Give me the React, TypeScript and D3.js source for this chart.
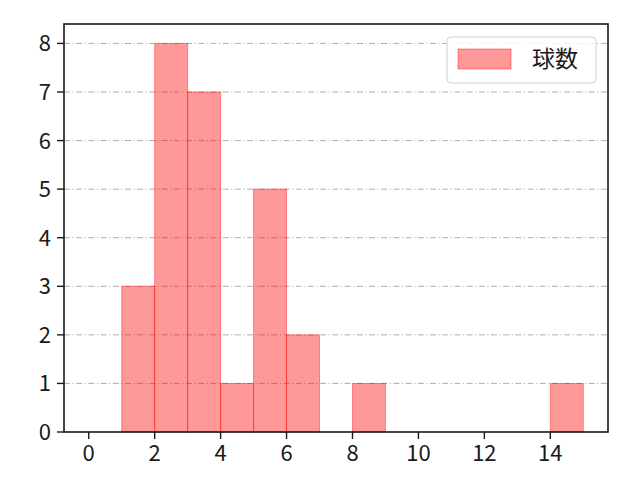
import * as d3 from "d3";

const binStarts = [1, 2, 3, 4, 5, 6, 7, 8, 9, 10, 11, 12, 13, 14];
const counts = [3, 8, 7, 1, 5, 2, 0, 1, 0, 0, 0, 0, 0, 1];
const xTicks = [0, 2, 4, 6, 8, 10, 12, 14];
const yTicks = [0, 1, 2, 3, 4, 5, 6, 7, 8];
const legendLabel = "球数";

const width = 640;
const height = 480;
const margin = { top: 24, right: 32, bottom: 48, left: 64 };
const font = "'Noto Sans CJK JP', 'Noto Sans', sans-serif";

export default function App() {
  const x = d3.scaleLinear().domain([-0.75, 15.75]).range([margin.left, width - margin.right]);
  const y = d3.scaleLinear().domain([0, 8.4]).range([height - margin.bottom, margin.top]);
  const bottom = height - margin.bottom;

  return (
    <svg width={width} height={height} style={{ position: "absolute", left: 0, top: 0, background: "#fff", fontFamily: font }}>
      {yTicks.slice(1).map((tick) => (
        <line key={`g-${tick}`} x1={margin.left} x2={width - margin.right} y1={y(tick)} y2={y(tick)} stroke="#b0b0b0" strokeWidth={1} strokeDasharray="6 2.5 1.2 2.5" />
      ))}

      {binStarts.map((start, i) =>
        counts[i] > 0 ? (
          <rect key={start} x={x(start)} y={y(counts[i])} width={x(start + 1) - x(start)} height={bottom - y(counts[i])} fill="rgba(255,0,0,0.4)" stroke="rgba(255,0,0,0.4)" strokeWidth={1} />
        ) : null,
      )}

      <rect x={margin.left} y={margin.top} width={width - margin.left - margin.right} height={bottom - margin.top} fill="none" stroke="#1a1a1a" strokeWidth={1.6} />

      {xTicks.map((tick) => (
        <g key={`x-${tick}`}>
          <line x1={x(tick)} x2={x(tick)} y1={bottom} y2={bottom + 7} stroke="#1a1a1a" strokeWidth={1.4} />
          <text x={x(tick)} y={bottom + 29} textAnchor="middle" fontSize={22} fill="#1a1a1a">{tick}</text>
        </g>
      ))}
      {yTicks.map((tick) => (
        <g key={`y-${tick}`}>
          <line x1={margin.left - 7} x2={margin.left} y1={y(tick)} y2={y(tick)} stroke="#1a1a1a" strokeWidth={1.4} />
          <text x={margin.left - 13} y={y(tick) + 8} textAnchor="end" fontSize={22} fill="#1a1a1a">{tick}</text>
        </g>
      ))}

      <g>
        <rect x={447} y={37} width={149} height={46} rx={4} fill="rgba(255,255,255,0.8)" stroke="#d0d0d0" strokeWidth={1} />
        <rect x={458} y={49} width={53} height={20} fill="rgba(255,0,0,0.4)" stroke="rgba(255,0,0,0.4)" strokeWidth={1} />
        <text x={532} y={67} fontSize={23} fill="#1a1a1a">{legendLabel}</text>
      </g>
    </svg>
  );
}
